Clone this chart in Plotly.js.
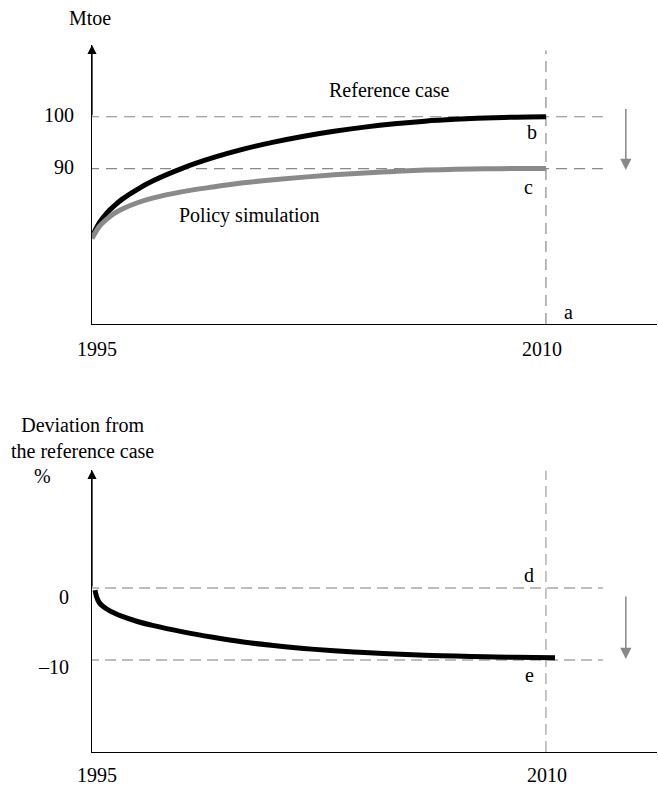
<!DOCTYPE html>
<html>
<head>
<meta charset="utf-8">
<script src="https://cdn.plot.ly/plotly-3.0.1.min.js"></script>
<style>html,body{margin:0;padding:0;background:#fff;}#chart{width:658px;height:786px;}</style>
</head>
<body>
<div id="chart"></div>
<script>
// ---- data ----
var refYears = [1995, 1995.25, 1995.5, 1995.75, 1996, 1996.5, 1997, 1998, 1999, 2000, 2001, 2002, 2003, 2004, 2005, 2006, 2007, 2008, 2009, 2010];
var refValues = [76.8, 79.6, 81.5, 82.9, 84.1, 86.0, 87.6, 90.1, 92.1, 93.75, 95.1, 96.25, 97.2, 98.0, 98.65, 99.15, 99.5, 99.75, 99.92, 100];
var polYears = [1995, 1995.25, 1995.5, 1995.75, 1996, 1996.5, 1997, 1998, 1999, 2000, 2001, 2002, 2003, 2004, 2005, 2006, 2007, 2008, 2009, 2010];
var polValues = [76.5, 78.9, 80.3, 81.4, 82.2, 83.4, 84.3, 85.55, 86.45, 87.25, 87.85, 88.35, 88.8, 89.15, 89.45, 89.7, 89.85, 89.95, 90.0, 90.0];
var devYears = [1995.1, 1995.15, 1995.25, 1995.5, 1995.75, 1996, 1996.5, 1997, 1998, 1999, 2000, 2001, 2002, 2003, 2004, 2005, 2006, 2007, 2008, 2009, 2010.3];
var devValues = [-0.3, -1.2, -2.1, -2.95, -3.5, -3.95, -4.65, -5.2, -6.1, -6.85, -7.5, -8.0, -8.4, -8.72, -8.97, -9.17, -9.33, -9.46, -9.56, -9.63, -9.7];

var xTickVals = [1995, 2010];
var xTickText = ['1995', '2010'];
var topTickVals = [100, 90];
var topTickText = ['100', '90'];
var botTickVals = [0, -10];
var botTickText = ['0', '\u201310'];
var seriesNames = ['Reference case', 'Policy simulation'];
var topUnit = 'Mtoe';
var botUnit = '%';
var botTitle = 'Deviation from<br>the reference case';
var pointLabelsTop = ['a', 'b', 'c'];
var pointLabelsBot = ['d', 'e'];

// ---- layout helpers ----
var FONT = 'Liberation Serif, Times New Roman, serif';
var W = 658, H = 786;
var xRange = [1995, 2013.67];
var topRange = [60, 113.85];
var botRange = [-22.78, 16.39];
var xDomain = [92 / W, 657 / W];
var topDomain = [(H - 324) / H, (H - 45) / H];
var botDomain = [(H - 752) / H, (H - 470) / H];

var traces = [
  {x: refYears, y: refValues, type: 'scatter', mode: 'lines', name: seriesNames[0],
   line: {color: '#000000', width: 5, shape: 'spline', smoothing: 1}, xaxis: 'x', yaxis: 'y'},
  {x: polYears, y: polValues, type: 'scatter', mode: 'lines', name: seriesNames[1],
   line: {color: '#8a8a8a', width: 5, shape: 'spline', smoothing: 1}, xaxis: 'x', yaxis: 'y'},
  {x: devYears, y: devValues, type: 'scatter', mode: 'lines', name: 'Deviation',
   line: {color: '#000000', width: 5, shape: 'spline', smoothing: 1}, xaxis: 'x2', yaxis: 'y2'}
];

function axisBase(extra) {
  var a = {showline: true, linecolor: '#000', linewidth: 1.3, showgrid: false, zeroline: false,
           showticklabels: false, ticks: '', fixedrange: true};
  for (var k in extra) a[k] = extra[k];
  return a;
}

var shapes = [];
var topDash = {color: '#888888', width: 1.2, dash: '11px,7px'};
var botDash = {color: '#a6a6a6', width: 1.3, dash: '11px,6px'};
var xEndDash = 2011.88, xStartDash = 1994.87;
topTickVals.forEach(function (v) {
  shapes.push({type: 'line', xref: 'x', yref: 'y', x0: xStartDash, x1: xEndDash, y0: v, y1: v, line: topDash, layer: 'below'});
});
shapes.push({type: 'line', xref: 'x', yref: 'y', x0: xTickVals[1], x1: xTickVals[1], y0: topRange[0], y1: 112.8, line: topDash, layer: 'below'});
botTickVals.forEach(function (v) {
  shapes.push({type: 'line', xref: 'x2', yref: 'y2', x0: xStartDash, x1: xEndDash, y0: v, y1: v, line: botDash, layer: 'below'});
});
shapes.push({type: 'line', xref: 'x2', yref: 'y2', x0: xTickVals[1], x1: xTickVals[1], y0: botRange[0], y1: 16.3, line: botDash, layer: 'below'});

var f = {family: FONT, size: 20, color: '#000'};
var ann = [];
function txt(o) { o.showarrow = false; o.font = o.font || f; ann.push(o); }

// axis arrows
ann.push({xref: 'x', yref: 'y', axref: 'x', ayref: 'y', x: 1995, y: topRange[1], ax: 1995, ay: 100,
  text: '', showarrow: true, arrowhead: 2, arrowsize: 1.4, arrowwidth: 1.3, arrowcolor: '#000', standoff: 0});
ann.push({xref: 'x2', yref: 'y2', axref: 'x2', ayref: 'y2', x: 1995, y: botRange[1], ax: 1995, ay: 0,
  text: '', showarrow: true, arrowhead: 2, arrowsize: 1.4, arrowwidth: 1.3, arrowcolor: '#000', standoff: 0});
// gray downward arrows
ann.push({xref: 'x', yref: 'y', axref: 'x', ayref: 'y', x: 2012.64, y: 89.7, ax: 2012.64, ay: 101.8,
  text: '', showarrow: true, arrowhead: 2, arrowsize: 1.5, arrowwidth: 1.5, arrowcolor: '#888', standoff: 0});
ann.push({xref: 'x2', yref: 'y2', axref: 'x2', ayref: 'y2', x: 2012.64, y: -9.86, ax: 2012.64, ay: -0.97,
  text: '', showarrow: true, arrowhead: 2, arrowsize: 1.5, arrowwidth: 1.5, arrowcolor: '#888', standoff: 0});

// top panel texts
txt({xref: 'x', yref: 'y', x: 1995, y: topRange[1], text: topUnit, xanchor: 'center', yanchor: 'middle', xshift: -2, yshift: 27});
topTickVals.forEach(function (v, i) {
  txt({xref: 'x', yref: 'y', x: 1995, y: v, text: topTickText[i], xanchor: 'right', yanchor: 'middle', xshift: -16, yshift: 2});
});
xTickVals.forEach(function (v, i) {
  txt({xref: 'x', yref: 'y', x: v, y: topRange[0], text: xTickText[i], xanchor: 'center', yanchor: 'middle', xshift: i === 0 ? 5 : -4, yshift: -25});
});
txt({xref: 'x', yref: 'y', x: 2004.83, y: 105.1, text: seriesNames[0], xanchor: 'center', yanchor: 'middle'});
txt({xref: 'x', yref: 'y', x: 2000.2, y: 80.9, text: seriesNames[1], xanchor: 'center', yanchor: 'middle'});
txt({xref: 'x', yref: 'y', x: 2010.73, y: 62.4, text: pointLabelsTop[0], xanchor: 'center', yanchor: 'middle'});
txt({xref: 'x', yref: 'y', x: 2009.53, y: 97.1, text: pointLabelsTop[1], xanchor: 'center', yanchor: 'middle'});
txt({xref: 'x', yref: 'y', x: 2009.41, y: 86.5, text: pointLabelsTop[2], xanchor: 'center', yanchor: 'middle'});

// bottom panel texts
txt({xref: 'paper', yref: 'y2', x: 82 / W, y: botRange[1], text: botTitle, xanchor: 'center', yanchor: 'middle', yshift: 32});
txt({xref: 'x2', yref: 'y2', x: 1995, y: botRange[1], text: botUnit, xanchor: 'center', yanchor: 'middle', xshift: -50, yshift: -6});
botTickVals.forEach(function (v, i) {
  txt({xref: 'x2', yref: 'y2', x: 1995, y: v, text: botTickText[i], xanchor: 'right', yanchor: 'middle', xshift: -21, yshift: i === 0 ? -9 : -7});
});
xTickVals.forEach(function (v, i) {
  txt({xref: 'x2', yref: 'y2', x: v, y: botRange[0], text: xTickText[i], xanchor: 'center', yanchor: 'middle', xshift: i === 0 ? 5 : 1, yshift: -23});
});
txt({xref: 'x2', yref: 'y2', x: 2009.44, y: 1.8, text: pointLabelsBot[0], xanchor: 'center', yanchor: 'middle'});
txt({xref: 'x2', yref: 'y2', x: 2009.47, y: -12.1, text: pointLabelsBot[1], xanchor: 'center', yanchor: 'middle'});

var layout = {
  width: W, height: H,
  margin: {l: 0, r: 0, t: 0, b: 0, pad: 0},
  paper_bgcolor: '#fff', plot_bgcolor: 'rgba(0,0,0,0)',
  showlegend: false,
  font: f,
  xaxis: axisBase({domain: xDomain, range: xRange, anchor: 'y'}),
  yaxis: axisBase({domain: topDomain, range: topRange, anchor: 'x'}),
  xaxis2: axisBase({domain: xDomain, range: xRange, anchor: 'y2'}),
  yaxis2: axisBase({domain: botDomain, range: botRange, anchor: 'x2'}),
  shapes: shapes,
  annotations: ann
};

Plotly.newPlot('chart', traces, layout, {staticPlot: true, displayModeBar: false});
</script>
</body>
</html>
